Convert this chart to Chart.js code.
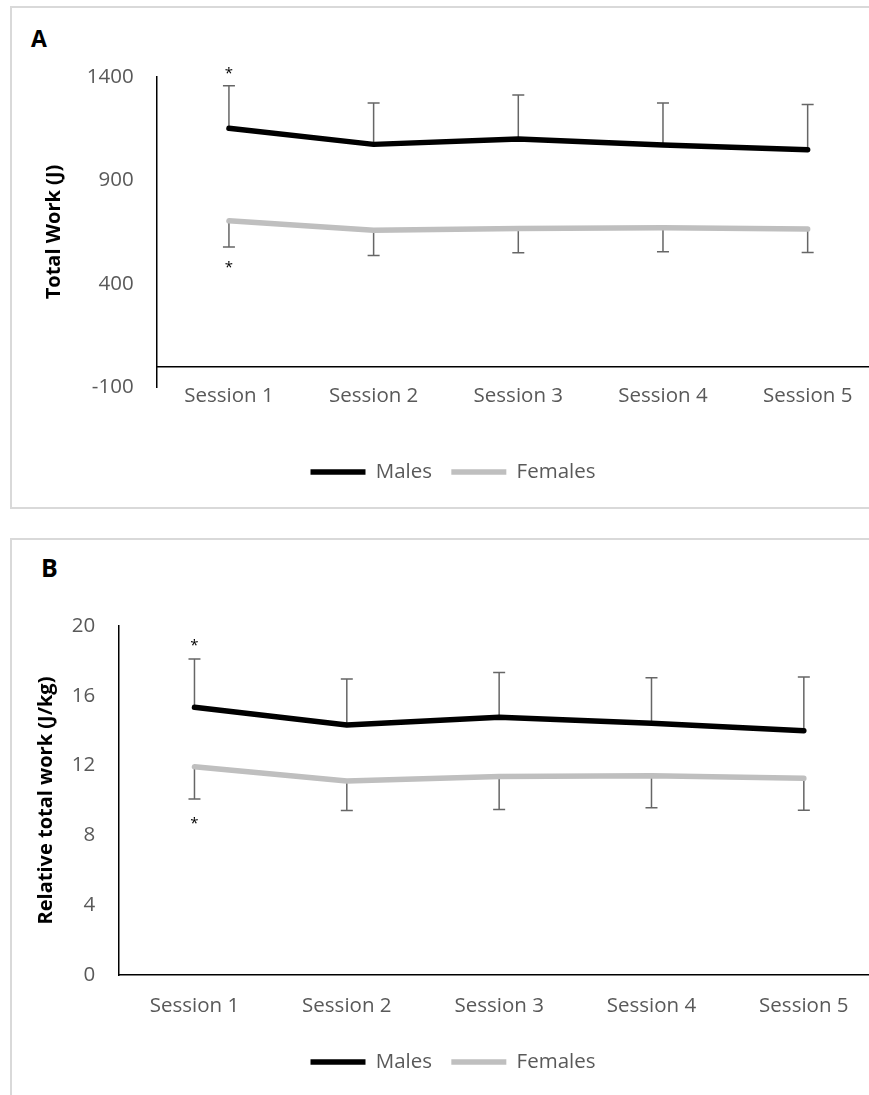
<!DOCTYPE html>
<html lang="en">
<head>
  <meta charset="utf-8"/>
  <title>Total work per session</title>

  <!-- Chart.js -->
  <script src="https://cdn.jsdelivr.net/npm/chart.js"></script>

  <style>
    html, body { margin: 0; padding: 0; background: #fff; overflow: hidden; width: 869px; height: 1095px; }
    .box { position: absolute; left: 10px; width: 900px; border: 2px solid #d9d9d9; box-sizing: border-box; }
    #boxA { top: 6px; height: 503px; }
    #boxB { top: 538px; height: 600px; }
    .panel { position: absolute; font-family: 'Open Sans', sans-serif; font-weight: bold; color: #000; line-height: 1; }
    canvas { position: absolute; left: 0; }
  </style>
</head>
<body>
  <div class="box" id="boxA"></div>
  <div class="box" id="boxB"></div>
  <div class="panel" style="left:31px; top:27px; font-size:23px;">A</div>
  <div class="panel" style="left:41px; top:555px; font-size:25px;">B</div>

  <canvas id="chartA" width="900" height="510" style="top:0"></canvas>
  <canvas id="chartB" width="900" height="575" style="top:520px"></canvas>

  <script>
  // ── DATA ─────────────────────────────────────────
  const sessions = ['Session 1', 'Session 2', 'Session 3', 'Session 4', 'Session 5'];

  // A: total work (J), mean and SD
  const workMales     = [1152, 1074, 1100, 1071, 1048];
  const workMalesSD   = [206, 200, 213, 203, 219];
  const workFemales   = [704, 659, 667, 670, 664];
  const workFemalesSD = [126, 123, 118, 116, 113];
  const workTicks     = [-100, 400, 900, 1400];

  // B: relative total work (J/kg), mean and SD
  const relMales     = [15.34, 14.33, 14.77, 14.42, 14.0];
  const relMalesSD   = [2.77, 2.63, 2.56, 2.62, 3.08];
  const relFemales   = [11.94, 11.12, 11.37, 11.42, 11.27];
  const relFemalesSD = [1.85, 1.70, 1.88, 1.83, 1.83];
  const relTicks     = [0, 4, 8, 12, 16, 20];

  // significance marks between sexes
  const sigMarks = ['*', '', '', '', ''];
  // ────────────────────────────────────────────────

  Chart.defaults.font.family = "'Open Sans', sans-serif";
  Chart.defaults.color = '#595959';

  // one-sided SD bars + asterisks, drawn from the chart's own scales
  const errorBars = {
    id: 'errorBars',
    beforeDatasetsDraw(chart, args, opts) {
      const { ctx, scales: { x, y } } = chart;
      ctx.save();
      ctx.strokeStyle = opts.color;
      ctx.lineWidth = opts.width;
      chart.data.datasets.forEach(ds => {
        ds.data.forEach((v, i) => {
          const px = x.getPixelForValue(i);
          const y0 = y.getPixelForValue(v);
          const y1 = y.getPixelForValue(v + ds.dir * ds.sd[i]);
          ctx.beginPath();
          ctx.moveTo(px, y0); ctx.lineTo(px, y1);
          ctx.moveTo(px - opts.cap, y1); ctx.lineTo(px + opts.cap, y1);
          ctx.stroke();
        });
      });
      ctx.restore();
    },
    afterDatasetsDraw(chart, args, opts) {
      const { ctx, scales: { x, y } } = chart;
      ctx.save();
      ctx.fillStyle = '#000';
      ctx.font = "15px 'Open Sans'";
      ctx.textAlign = 'center';
      ctx.textBaseline = 'alphabetic';
      chart.data.datasets.forEach(ds => {
        ds.marks.forEach((m, i) => {
          if (!m) return;
          const px = x.getPixelForValue(i);
          const y1 = y.getPixelForValue(ds.data[i] + ds.dir * ds.sd[i]);
          const my = ds.dir > 0 ? y1 - opts.gapUp : y1 + opts.gapDown;
          const tm = ctx.measureText(m);
          ctx.fillText(m, px, my + (tm.actualBoundingBoxAscent - tm.actualBoundingBoxDescent) / 2);
        });
      });
      ctx.restore();
    }
  };

  function lineSet(label, data, sd, dir, color) {
    return {
      label, data, sd, dir, marks: sigMarks,
      borderColor: color, backgroundColor: color,
      borderWidth: 5.5, pointRadius: 0, tension: 0, fill: false,
      borderCapStyle: 'round', borderJoinStyle: 'round'
    };
  }

  const legendOpts = {
    position: 'bottom',
    labels: {
      usePointStyle: true, pointStyle: 'line', pointStyleWidth: 55,
      padding: 19.3, color: '#595959', font: { size: 20.5 }
    }
  };

  // ── Chart A ──
  new Chart(document.getElementById('chartA'), {
    type: 'line',
    data: {
      labels: sessions,
      datasets: [
        lineSet('Males', workMales, workMalesSD, 1, '#000000'),
        lineSet('Females', workFemales, workFemalesSD, -1, '#bfbfbf')
      ]
    },
    options: {
      responsive: false,
      animation: false,
      layout: { padding: { left: 26, right: 20, top: 77, bottom: 17.75 } },
      scales: {
        x: {
          offset: true,
          grid: { display: false, drawTicks: false },
          border: { display: false },
          ticks: { padding: -3.3, font: { size: 20.5 } },
          afterFit: s => { s.height = 55.45; }
        },
        zero: {
          type: 'category', axis: 'x', position: { y: 0 }, offset: true,
          grid: { display: false, drawTicks: false },
          ticks: { display: false },
          border: { color: '#000', width: 1.5 }
        },
        y: {
          min: workTicks[0], max: workTicks[workTicks.length - 1],
          afterBuildTicks: s => { s.ticks = workTicks.map(v => ({ value: v })); },
          grid: { display: false, drawTicks: false },
          border: { color: '#000', width: 1.5 },
          ticks: { padding: 23, font: { size: 20.5 }, callback: v => String(v) },
          title: {
            display: true, text: 'Total Work (J)', color: '#000',
            font: { size: 20, weight: 'bold' }, padding: { top: 16, bottom: 0 }
          },
          afterFit: s => { s.width = 130.6; }
        }
      },
      plugins: {
        legend: legendOpts,
        tooltip: { enabled: false },
        errorBars: { color: '#666', width: 1.5, cap: 6, gapUp: 15, gapDown: 18 }
      }
    },
    plugins: [errorBars]
  });

  // ── Chart B ──
  new Chart(document.getElementById('chartB'), {
    type: 'line',
    data: {
      labels: sessions,
      datasets: [
        lineSet('Males', relMales, relMalesSD, 1, '#000000'),
        lineSet('Females', relFemales, relFemalesSD, -1, '#bfbfbf')
      ]
    },
    options: {
      responsive: false,
      animation: false,
      layout: { padding: { left: 26, right: 20, top: 106, bottom: 12.75 } },
      scales: {
        x: {
          offset: true,
          grid: { display: false, drawTicks: false },
          border: { color: '#000', width: 1.5 },
          ticks: { padding: 18.7, font: { size: 20.5 } },
          afterFit: s => { s.height = 57.45; }
        },
        y: {
          min: relTicks[0], max: relTicks[relTicks.length - 1],
          afterBuildTicks: s => { s.ticks = relTicks.map(v => ({ value: v })); },
          grid: { display: false, drawTicks: false },
          border: { color: '#000', width: 1.5 },
          ticks: { padding: 23, font: { size: 20.5 }, callback: v => String(v) },
          title: {
            display: true, text: 'Relative total work (J/kg)', color: '#000',
            font: { size: 20, weight: 'bold' }, padding: { top: 8, bottom: 0 }
          },
          afterFit: s => { s.width = 92.3; }
        }
      },
      plugins: {
        legend: legendOpts,
        tooltip: { enabled: false },
        errorBars: { color: '#666', width: 1.5, cap: 6, gapUp: 16, gapDown: 22 }
      }
    },
    plugins: [errorBars]
  });
  </script>
</body>
</html>
